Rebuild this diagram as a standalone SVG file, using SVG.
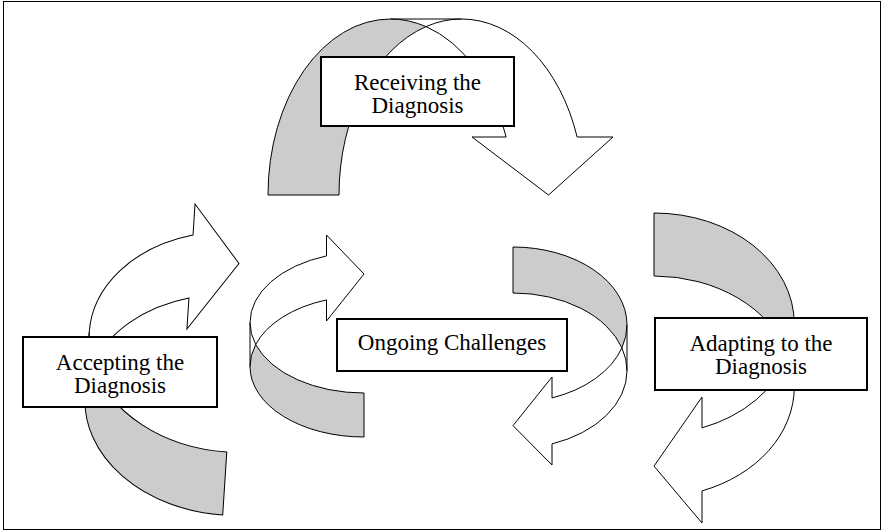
<svg xmlns="http://www.w3.org/2000/svg" width="883" height="532" viewBox="0 0 883 532">
<style>
.back{fill:#cccccc;stroke:#000;stroke-width:1;stroke-linejoin:round}
.front{fill:#ffffff;stroke:#000;stroke-width:1;stroke-linejoin:miter}
.edge{fill:none;stroke:#000;stroke-width:1}
.box{fill:#ffffff;stroke:#000;stroke-width:2}
.lbl{font-family:"Liberation Serif","Times New Roman",serif;font-size:23px;fill:#000;text-anchor:middle}
.frame{fill:none;stroke:#000;stroke-width:1}
</style>
<rect class="frame" x="3.5" y="1.5" width="877" height="528"/>
<g id="connectors">
  <g id="arrow-receiving">
    <path class="back" d="M268,195 A122.5,176 0 0 1 390.5,19 A122.5,176 0 0 1 426,26.6 A122.5,176 0 0 0 339,195 Z"/>
    <path class="front" d="M426,26.6 A122.5,176 0 0 1 461.5,19 A122.5,176 0 0 1 577.15,137 L613,137 L548.5,195 L472,137 L506.15,137 A122.5,176 0 0 0 426,26.6 Z"/>
    <path class="edge" d="M390.5,19 L461.5,19"/>
  </g>
  <g id="arrow-accepting" transform="translate(239,263) rotate(3.7)">
    <path class="back" d="M0,252.5 A145,110.2 0 0 1 -145,142.3 A145,110.2 0 0 1 -138.9,110.7 A145,110.2 0 0 0 0,189.3 Z"/>
    <path class="front" d="M-138.9,110.7 A145,110.2 0 0 1 -145,79.1 A145,110.2 0 0 1 -47.7,-25 L-47.7,-56 L0,0.5 L-47.7,69.2 L-47.7,38.2 A145,110.2 0 0 0 -138.9,110.7 Z"/>
    <path class="edge" d="M-145,79.1 L-145,142.3"/>
  </g>
  <g id="arrow-ongoing-in" transform="translate(364,273)">
    <path class="back" d="M0,164 A114,70.5 0 0 1 -114,93.5 A114,70.5 0 0 1 -108.3,71.5 A114,70.5 0 0 0 0,120 Z"/>
    <path class="front" d="M-108.3,71.5 A114,70.5 0 0 1 -114,49.5 A114,70.5 0 0 1 -37.5,-17.08 L-37.5,-38 L0,1 L-37.5,48 L-37.5,26.92 A114,70.5 0 0 0 -108.3,71.5 Z"/>
    <path class="edge" d="M-114,49.5 L-114,93.5"/>
  </g>
  <g id="arrow-ongoing-out">
    <path class="back" d="M513,247 A114,77.8 0 0 1 627,324.8 A114,77.8 0 0 1 621.9,347.8 A114,77.8 0 0 0 513,293 Z"/>
    <path class="front" d="M621.9,347.8 A114,77.8 0 0 1 627,370.8 A114,77.8 0 0 1 552,443.9 L552,465 L513,425.6 L552,377 L552,397.9 A114,77.8 0 0 0 621.9,347.8 Z"/>
    <path class="edge" d="M627,324.8 L627,370.8"/>
  </g>
  <g id="arrow-adapting">
    <path class="back" d="M654,213 A140.3,110.8 0 0 1 794.3,323.8 A140.3,110.8 0 0 1 788.5,355.3 A140.3,110.8 0 0 0 654,276 Z"/>
    <path class="front" d="M788.5,355.3 A140.3,110.8 0 0 1 794.3,386.8 A140.3,110.8 0 0 1 702,490.9 L702,523 L654,466.1 L702,397 L702,427.9 A140.3,110.8 0 0 0 788.5,355.3 Z"/>
    <path class="edge" d="M794.3,323.8 L794.3,386.8"/>
  </g>
</g>
<g id="node-receiving">
  <rect class="box" x="321" y="57" width="193" height="69"/>
  <text class="lbl" x="417.5" y="90">Receiving the</text>
  <text class="lbl" x="417.5" y="113">Diagnosis</text>
</g>
<g id="node-accepting">
  <rect class="box" x="23" y="337" width="194" height="70"/>
  <text class="lbl" x="120" y="370">Accepting the</text>
  <text class="lbl" x="120" y="393">Diagnosis</text>
</g>
<g id="node-ongoing">
  <rect class="box" x="337" y="319" width="230" height="52"/>
  <text class="lbl" x="452" y="350">Ongoing Challenges</text>
</g>
<g id="node-adapting">
  <rect class="box" x="655" y="318" width="212" height="72"/>
  <text class="lbl" x="761" y="351">Adapting to the</text>
  <text class="lbl" x="761" y="374">Diagnosis</text>
</g>
</svg>
